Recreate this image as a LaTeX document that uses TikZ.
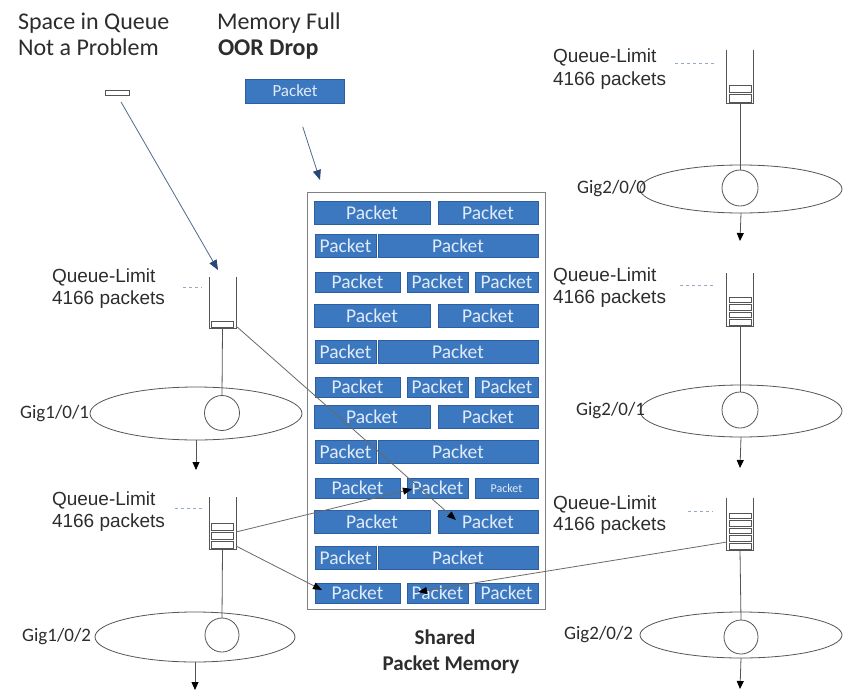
\documentclass[tikz,border=0pt]{standalone}
\usepackage{fontspec}
\setmainfont{Carlito}
\newfontfamily\arialf{Liberation Sans}
\usetikzlibrary{shapes.geometric,arrows.meta}
\definecolor{pktblue}{RGB}{60,120,192}
\definecolor{pktedge}{RGB}{45,95,160}
\definecolor{pkttext}{RGB}{225,235,248}
\definecolor{linegray}{RGB}{85,85,85}
\definecolor{arrgray}{RGB}{105,105,105}
\definecolor{bluel}{RGB}{80,105,145}
\definecolor{blueh}{RGB}{40,70,120}
\definecolor{leadc}{RGB}{150,170,195}
\definecolor{txt}{RGB}{45,45,45}
\newcommand\drawqueue[6]{%
  \node[qbox, minimum width=27pt, minimum height={#4-#3}] (#1) at (#2,{(#3+#4)/2}) {};
  \draw[qline] (#1.north west) -- (#1.south west) -- (#1.south east) -- (#1.north east);
  \pgfmathsetmacro\qsh{(#4-#6)/#5}
  \foreach \k in {1,...,#5} {\draw[slotline] ({#2-11},{#6+(\k-1)*\qsh+1}) rectangle ({#2+11},{#6+\k*\qsh-1});}
}
\begin{document}
\begin{tikzpicture}[x=1pt,y=-1pt,
  every node/.style={inner sep=0pt, outer sep=0pt},
  pkt/.style={draw=pktedge, line width=0.6pt, fill=pktblue, text=pkttext, font=\fontsize{19.5}{21}\selectfont, minimum height=23pt},
  pktc/.style={pkt, minimum height=20pt},
  qbox/.style={draw=none},
  qline/.style={draw=linegray, line width=0.9pt},
  slotline/.style={draw=linegray, line width=0.7pt, fill=white},
  ell/.style={ellipse, draw=linegray, line width=0.8pt},
  circ/.style={circle, draw=linegray, line width=0.8pt},
  stem/.style={draw=linegray, line width=0.8pt},
  outarr/.style={draw=linegray, line width=0.8pt, -{Triangle[length=8pt,width=7pt,color=black]}},
  pktarr/.style={draw=arrgray, line width=0.8pt, -{Triangle[length=9pt,width=7pt,color=black]}},
  bluearr/.style={draw=bluel, line width=0.8pt, -{Triangle[length=10pt,width=8pt,color=blueh]}},
  leader/.style={draw=leadc, line width=0.7pt, dash pattern=on 3pt off 3pt},
  toptxt/.style={text=txt, font=\fontsize{24}{28}\selectfont, anchor=base west},
  qltxt/.style={text=txt, font=\arialf\fontsize{19}{22}\selectfont, anchor=base west},
  gigtxt/.style={text=txt, font=\fontsize{19}{22}\selectfont, anchor=east},
  memtxt/.style={text=txt, font=\bfseries\fontsize{21}{24}\selectfont, anchor=base}
]
\fill[white] (0,0) rectangle (851,693);
\useasboundingbox (0,0) rectangle (851,693);

% top texts
\node[toptxt] (t1) at (18,30) {Space in Queue};
\node[toptxt] (t2) at (18,56) {Not a Problem};
\node[toptxt] (t3) at (217,30) {Memory Full};
\node[toptxt, font=\bfseries\fontsize{24}{28}\selectfont] (t4) at (218,56) {OOR Drop};

% small packet in queue and dropped packet
\node[draw=linegray, line width=0.7pt, fill=white, minimum width=24pt, minimum height=5pt] (sq) at (117,92.5) {};
\node[pkt, minimum width=99pt, minimum height=24pt, font=\fontsize{17}{20}\selectfont] (pTop) at (295,91) {Packet};

% memory box
\node[draw=gray, line width=0.8pt, minimum width=238pt, minimum height=417pt] (mem) at (426,400.5) {};

% packets
\foreach \r/\y in {1/213,4/316,7/417,10/522} {
  \node[pkt, minimum width=116pt] (p\r-1) at (372,\y) {Packet};
  \node[pkt, minimum width=100pt] (p\r-2) at (488,\y) {Packet};
}
\foreach \r/\y in {2/246,5/352,8/452,11/558} {
  \node[pkt, minimum width=61pt] (p\r-1) at (345.5,\y) {Packet};
  \node[pkt, minimum width=160pt] (p\r-2) at (458,\y) {Packet};
}
\foreach \r/\y in {3/282,6/387,9/488,12/593} {
  \node[pktc, minimum width=85pt] (p\r-1) at (357.5,\y) {Packet};
  \node[pktc, minimum width=61pt] (p\r-2) at (437.5,\y) {Packet};
}
\foreach \r/\y in {3/282,6/387,12/593} {
  \node[pktc, minimum width=63pt] (p\r-3) at (506.5,\y) {Packet};
}
\node[pktc, minimum width=63pt, font=\fontsize{12}{14}\selectfont] (p9-3) at (506.5,488) {Packet};

% memory label
\node[memtxt] (ms1) at (445,644) {Shared};
\node[memtxt] (ms2) at (451,670) {Packet Memory};

% queues
\drawqueue{qL1}{222.5}{277}{328}{1}{320}
\drawqueue{qL2}{222.5}{497}{549}{3}{522}
\drawqueue{qR1}{740}{50}{103}{2}{84}
\drawqueue{qR2}{740}{273}{326}{4}{296}
\drawqueue{qR3}{740}{498}{550}{5}{512}

% queue-limit labels
\node[qltxt] (lL1a) at (52,282) {Queue-Limit};
\node[qltxt] (lL1b) at (52,304) {4166 packets};
\node[qltxt] (lL2a) at (52,505) {Queue-Limit};
\node[qltxt] (lL2b) at (52,527) {4166 packets};
\node[qltxt] (lR1a) at (553,63) {Queue-Limit};
\node[qltxt] (lR1b) at (553,85) {4166 packets};
\node[qltxt] (lR2a) at (553,281) {Queue-Limit};
\node[qltxt] (lR2b) at (553,303) {4166 packets};
\node[qltxt] (lR3a) at (553,509) {Queue-Limit};
\node[qltxt] (lR3b) at (553,530) {4166 packets};
\coordinate (dL1a) at (183,287); \coordinate (dL1b) at (202,287);
\coordinate (dL2a) at (175,508); \coordinate (dL2b) at (202,508);
\coordinate (dR1a) at (675,63);  \coordinate (dR1b) at (717,63);
\coordinate (dR2a) at (680,285); \coordinate (dR2b) at (713,285);
\coordinate (dR3a) at (688,511); \coordinate (dR3b) at (713,511);
\draw[leader] (dL1a) -- (dL1b);
\draw[leader] (dL2a) -- (dL2b);
\draw[leader] (dR1a) -- (dR1b);
\draw[leader] (dR2a) -- (dR2b);
\draw[leader] (dR3a) -- (dR3b);

% interfaces
\node[ell, minimum width=212pt, minimum height=53pt] (eL1) at (196,413.5) {};
\node[circ, minimum size=35pt] (cL1) at (222,413) {};
\node[gigtxt] (gL1) at ([xshift=-1pt]eL1.west) {Gig1/0/1};
\node[ell, minimum width=200pt, minimum height=50pt] (eL2) at (195,637) {};
\node[circ, minimum size=34pt] (cL2) at (222,635) {};
\node[gigtxt] (gL2) at ([xshift=-4pt]eL2.west) {Gig1/0/2};
\node[ell, minimum width=202pt, minimum height=48pt] (eR1) at (741,189) {};
\node[circ, minimum size=36pt] (cR1) at (740,188) {};
\node[gigtxt] (gR1) at ([xshift=6pt]eR1.west) {Gig2/0/0};
\node[ell, minimum width=202pt, minimum height=52pt] (eR2) at (741,411) {};
\node[circ, minimum size=36pt] (cR2) at (740,410) {};
\node[gigtxt] (gR2) at ([xshift=5pt]eR2.west) {Gig2/0/1};
\node[ell, minimum width=202pt, minimum height=46pt] (eR3) at (741,635) {};
\node[circ, minimum size=34pt] (cR3) at (741,637) {};
\node[gigtxt] (gR3) at ([xshift=-7pt]eR3.west) {Gig2/0/2};

\draw[stem] (qL1.south) -- (cL1.north);
\draw[stem] (qL2.south) -- (cL2.north);
\draw[stem] (qR1.south) -- (cR1.north);
\draw[stem] (qR2.south) -- (cR2.north);
\draw[stem] (qR3.south) -- (cR3.north);

\coordinate (oL1) at (196,470);
\coordinate (oL2) at (195,690);
\coordinate (oR1) at (740,241);
\coordinate (oR2) at (740,468);
\coordinate (oR3) at (740,689);
\draw[outarr] (eL1.south) -- (oL1);
\draw[outarr] (eL2.south) -- (oL2);
\draw[outarr] (eR1.south) -- (oR1);
\draw[outarr] (eR2.south) -- (oR2);
\draw[outarr] (eR3.south) -- (oR3);

% incoming arrows
\coordinate (inQ) at (218,270);
\draw[bluearr, shorten <=8pt] (sq.south) -- (inQ);
\coordinate (inMem) at (320,180);
\draw[bluearr, shorten <=25pt] (pTop.south) -- (inMem);

% queue to packet memory pointers
\coordinate (sA1) at (236,326); \coordinate (eA1) at (456,520);
\coordinate (sA2) at (236,532); \coordinate (eA2) at (412,489);
\coordinate (sA3) at (236,546); \coordinate (eA3) at (322,590);
\coordinate (sA4) at (727,542); \coordinate (eA4) at (418,592);
\draw[pktarr] (sA1) -- (eA1);
\draw[pktarr] (sA2) -- (eA2);
\draw[pktarr] (sA3) -- (eA3);
\draw[pktarr] (sA4) -- (eA4);
\end{tikzpicture}
\end{document}
